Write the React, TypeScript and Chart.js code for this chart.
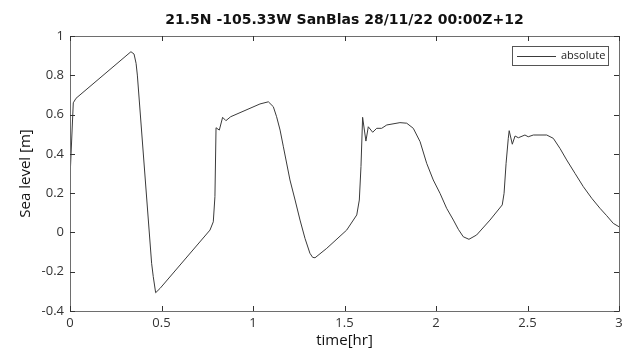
import React, { useEffect, useRef } from "react";
import { Chart, registerables } from "chart.js";

Chart.register(...registerables);

const TITLE = "21.5N -105.33W SanBlas 28/11/22 00:00Z+12";
const X_LABEL = "time[hr]";
const Y_LABEL = "Sea level [m]";
const SERIES_NAME = "absolute";

const times = [
  0, 0.018, 0.033, 0.333, 0.35, 0.361, 0.368, 0.446, 0.455, 0.468, 0.492, 0.765,
  0.783, 0.792, 0.798, 0.816, 0.834, 0.852, 0.878, 1.038, 1.084, 1.111, 1.129,
  1.148, 1.166, 1.202, 1.23, 1.257, 1.284, 1.311, 1.326, 1.339, 1.403, 1.512,
  1.567, 1.581, 1.59, 1.599, 1.617, 1.63, 1.654, 1.676, 1.703, 1.731, 1.803,
  1.84, 1.876, 1.913, 1.949, 1.985, 2.022, 2.058, 2.095, 2.122, 2.149, 2.18,
  2.222, 2.295, 2.362, 2.372, 2.383, 2.395, 2.4, 2.417, 2.432, 2.45, 2.486,
  2.504, 2.532, 2.605, 2.641, 2.678, 2.714, 2.76, 2.805, 2.851, 2.896, 2.933,
  2.969, 3.0,
];
const seaLevel = [
  0.277, 0.66, 0.683, 0.92, 0.908, 0.861, 0.801, -0.157, -0.225, -0.307, -0.285,
  0.012, 0.054, 0.182, 0.533, 0.521, 0.586, 0.569, 0.589, 0.654, 0.665, 0.64,
  0.589, 0.521, 0.436, 0.267, 0.165, 0.063, -0.03, -0.106, -0.127, -0.129,
  -0.081, 0.012, 0.089, 0.165, 0.335, 0.586, 0.465, 0.538, 0.51, 0.53, 0.53,
  0.547, 0.559, 0.556, 0.53, 0.462, 0.352, 0.267, 0.199, 0.123, 0.063, 0.016,
  -0.022, -0.035, -0.013, 0.063, 0.14, 0.199, 0.352, 0.479, 0.518, 0.449, 0.491,
  0.482, 0.496, 0.487, 0.496, 0.496, 0.479, 0.427, 0.369, 0.3, 0.233, 0.174,
  0.123, 0.085, 0.046, 0.029,
];

const FONT = "'Open Sans', sans-serif";
const TITLE_FONT = "'DejaVu Sans', sans-serif";

const framePlugin = {
  id: "frame",
  afterDatasetsDraw(chart: any) {
    const { ctx, chartArea: a, scales } = chart;
    const xs = scales.x;
    const ys = scales.y;
    ctx.save();
    ctx.strokeStyle = "#6e6e6e";
    ctx.lineWidth = 1;
    ctx.strokeRect(Math.round(a.left) + 0.5, Math.round(a.top) + 0.5, Math.round(a.right - a.left), Math.round(a.bottom - a.top));
    ctx.strokeStyle = "#333";
    const tl = 5;
    ctx.beginPath();
    xs.ticks.forEach((t: any) => {
      const px = Math.round(xs.getPixelForValue(t.value)) + 0.5;
      ctx.moveTo(px, a.bottom);
      ctx.lineTo(px, a.bottom - tl);
      ctx.moveTo(px, a.top);
      ctx.lineTo(px, a.top + tl);
    });
    ys.ticks.forEach((t: any) => {
      const py = Math.round(ys.getPixelForValue(t.value)) + 0.5;
      ctx.moveTo(a.left, py);
      ctx.lineTo(a.left + tl, py);
      ctx.moveTo(a.right, py);
      ctx.lineTo(a.right - tl, py);
    });
    ctx.stroke();

    // legend box
    const bw = 96;
    const bh = 19;
    const bx = Math.round(a.right) - 11 - bw;
    const by = Math.round(a.top) + 10;
    ctx.fillStyle = "#fff";
    ctx.fillRect(bx, by, bw, bh);
    ctx.strokeStyle = "#555";
    ctx.strokeRect(bx + 0.5, by + 0.5, bw, bh);
    ctx.strokeStyle = "#3a3a3a";
    ctx.beginPath();
    ctx.moveTo(bx + 5, by + 10.5);
    ctx.lineTo(bx + 44, by + 10.5);
    ctx.stroke();
    ctx.fillStyle = "#222";
    ctx.font = `11px ${FONT}`;
    ctx.textBaseline = "middle";
    ctx.textAlign = "left";
    ctx.fillText(SERIES_NAME, bx + 49, by + 10);
    ctx.restore();
  },
};

export default function App() {
  const ref = useRef<HTMLCanvasElement | null>(null);
  useEffect(() => {
    if (!ref.current) return;
    const data = times.map((t, i) => ({ x: t, y: seaLevel[i] }));
    const chart = new Chart(ref.current, {
      type: "line",
      data: {
        datasets: [
          {
            label: SERIES_NAME,
            data,
            borderColor: "#3a3a3a",
            borderWidth: 1,
            pointRadius: 0,
            tension: 0,
            fill: false,
          },
        ],
      },
      options: {
        responsive: false,
        animation: false,
        layout: { padding: { left: 0, right: 10, top: 0, bottom: 0 } },
        plugins: {
          legend: { display: false },
          tooltip: { enabled: false },
          title: {
            display: true,
            text: TITLE,
            fullSize: false,
            color: "#111",
            font: { family: TITLE_FONT, size: 14, weight: "bold" },
            padding: { top: 12, bottom: 7.2 },
          },
        },
        scales: {
          x: {
            type: "linear",
            min: 0,
            max: 3,
            ticks: {
              stepSize: 0.5,
              padding: 4,
              color: "#333",
              maxRotation: 0,
              font: { family: FONT, size: 13 },
              callback: (v: any) => String(Number(Number(v).toFixed(2))),
            },
            grid: { display: false, drawTicks: false },
            border: { display: false },
            title: {
              display: true,
              text: X_LABEL,
              color: "#111",
              font: { family: FONT, size: 15 },
              padding: { top: 0, bottom: 0 },
            },
            afterFit: (s: any) => {
              s.height = 39;
            },
          },
          y: {
            min: -0.4,
            max: 1,
            ticks: {
              stepSize: 0.2,
              padding: 6,
              color: "#333",
              font: { family: FONT, size: 13 },
              callback: (v: any) => String(Number(Number(v).toFixed(2))),
            },
            grid: { display: false, drawTicks: false },
            border: { display: false },
            title: {
              display: true,
              text: Y_LABEL,
              color: "#111",
              font: { family: FONT, size: 15 },
              padding: { top: 17, bottom: 0 },
            },
            afterFit: (s: any) => {
              s.width = 70;
            },
          },
        },
      },
      plugins: [framePlugin],
    });
    return () => chart.destroy();
  }, []);
  return (
    <div style={{ position: "fixed", left: 0, top: 0, width: 629, height: 350, background: "#fff" }}>
      <canvas ref={ref} width={629} height={350} style={{ display: "block" }} />
    </div>
  );
}
